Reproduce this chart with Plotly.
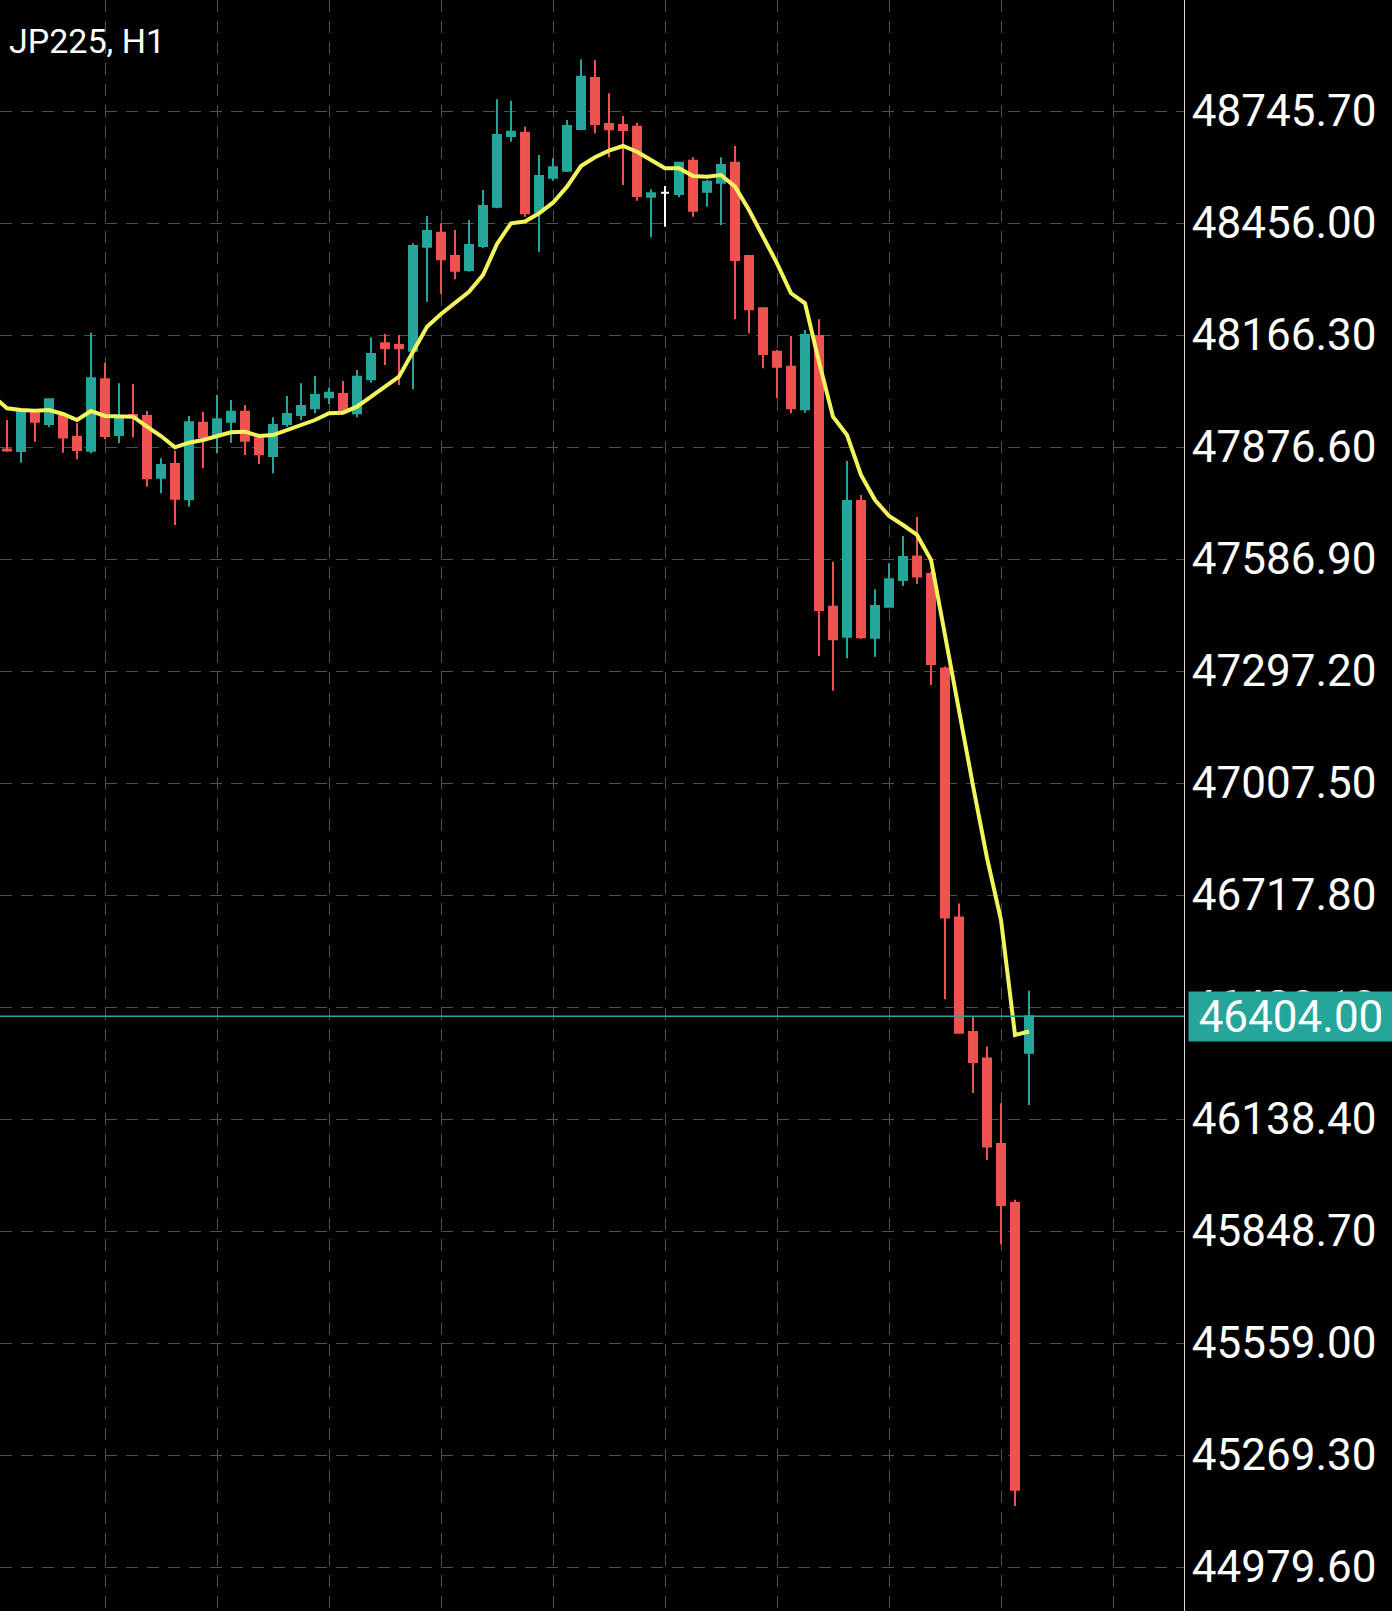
import plotly.graph_objects as go

chart_title = "JP225, H1"

opens = [47870.1, 47866.2, 47963.8, 47936.1, 47956.8, 47903.2, 47867.0, 48051.7, 47907.6, 47959.4,
         47956.8, 47797.2, 47832.6, 47741.3, 47939.5, 47907.6, 47942.0, 47967.9, 47899.1, 47853.3,
         47936.1, 47959.4, 47976.7, 48005.2, 48013.7, 47963.8, 48051.7, 48144.8, 48140.4, 48125.7,
         48394.7, 48430.9, 48370.6, 48334.4, 48396.5, 48498.2, 48681.0, 48689.6, 48485.2, 48573.2,
         48591.3, 48699.1, 48831.1, 48712.1, 48709.5, 48705.1, 48524.0, 48534.4, 48531.0, 48617.1,
         48537.0, 48560.2, 48612.0, 48370.6, 48235.4, 48123.1, 48084.3, 47974.1, 48163.7, 47463.5,
         47385.9, 47736.9, 47383.3, 47463.5, 47532.6, 47593.4, 47548.1, 47303.7, 46659.9, 46363.4,
         46294.9, 46073.7, 45921.1, 46309.9]

highs = [47946.4, 47970.5, 47963.8, 48001.5, 47956.8, 47937.9, 48172.2, 48094.6, 48041.4, 48039.6,
         47969.7, 47847.4, 47867.0, 47956.8, 47967.9, 48011.1, 47998.2, 47985.2, 47901.0, 47953.4,
         48008.5, 48041.4, 48060.2, 48030.0, 48047.3, 48075.8, 48160.3, 48168.9, 48166.3, 48403.5,
         48474.1, 48455.2, 48437.9, 48463.8, 48541.4, 48776.0, 48772.3, 48705.1, 48631.9, 48623.4,
         48722.4, 48879.4, 48877.6, 48791.5, 48732.8, 48715.4, 48543.2, 48551.7, 48614.6, 48625.9,
         48567.2, 48625.9, 48655.2, 48374.0, 48238.0, 48127.5, 48163.7, 48179.2, 48206.9, 47579.9,
         47840.4, 47752.4, 47508.5, 47575.8, 47646.4, 47695.5, 47554.0, 47309.0, 46695.5, 46402.2,
         46325.9, 46179.0, 45929.7, 46470.3]

lows = [47864.4, 47836.0, 47890.3, 47927.6, 47861.9, 47844.8, 47860.3, 47896.5, 47886.2, 47901.7,
        47773.9, 47756.8, 47674.8, 47722.2, 47821.5, 47860.3, 47887.7, 47855.9, 47832.6, 47808.6,
        47929.1, 47946.4, 47963.8, 47987.8, 47963.8, 47953.4, 48042.9, 48088.7, 48037.0, 48025.8,
        48252.4, 48272.3, 48310.4, 48330.0, 48390.6, 48494.0, 48666.3, 48472.3, 48381.8, 48565.4,
        48588.0, 48696.0, 48688.0, 48625.9, 48554.3, 48513.7, 48419.0, 48446.4, 48522.5, 48472.3,
        48498.2, 48450.8, 48206.9, 48170.7, 48080.2, 48002.6, 47963.8, 47965.3, 47336.0, 47246.2,
        47330.0, 47380.0, 47334.2, 47461.0, 47517.1, 47522.2, 47261.0, 46448.0, 46359.0, 46205.6,
        46032.3, 45813.8, 45137.4, 46174.6]

closes = [47867.5, 47966.4, 47942.0, 48000.0, 47901.2, 47868.8, 48054.3, 47905.0, 47950.8, 47954.2,
          47795.6, 47830.0, 47742.9, 47940.5, 47901.7, 47948.2, 47967.9, 47892.9, 47857.7, 47933.5,
          47962.0, 47982.6, 48011.1, 48017.0, 47970.5, 48058.4, 48117.2, 48131.9, 48131.9, 48396.5,
          48435.3, 48362.1, 48332.6, 48399.1, 48500.0, 48683.6, 48692.2, 48481.1, 48577.6, 48600.1,
          48706.9, 48834.4, 48712.1, 48698.4, 48696.6, 48525.8, 48532.8, 48534.4, 48612.0, 48487.8,
          48562.8, 48606.0, 48360.3, 48232.8, 48117.2, 48084.3, 47976.7, 48166.3, 47455.0, 47379.2,
          47736.9, 47384.4, 47465.3, 47534.4, 47592.1, 47541.6, 47315.3, 46659.9, 46361.6, 46285.8,
          46067.5, 45915.9, 45179.5, 46404.0]

# moving average, one value per bar starting one bar before the first visible candle
ma_values = [48008.5, 47976.7, 47972.3, 47970.5, 47972.3, 47962.0, 47946.4, 47969.7, 47956.8, 47956.8, 47955.0,
             47929.1, 47905.0, 47875.8, 47887.7, 47894.7, 47905.0, 47914.6, 47916.2, 47905.0, 47907.6,
             47920.6, 47930.9, 47946.4, 47963.8, 47965.3, 47980.8, 48006.7, 48032.6, 48058.4, 48123.1,
             48187.8, 48220.6, 48248.3, 48278.3, 48321.5, 48401.7, 48455.2, 48459.9, 48481.1, 48508.5,
             48549.9, 48603.4, 48625.9, 48643.0, 48655.2, 48640.4, 48619.0, 48597.5, 48597.5, 48577.6,
             48575.8, 48580.2, 48549.9, 48489.6, 48420.6, 48351.8, 48274.2, 48248.3, 48096.5, 47955.0,
             47907.6, 47804.2, 47739.5, 47698.1, 47674.8, 47649.0, 47584.3, 47385.1, 47191.7, 47000.3,
             46813.5, 46653.1, 46355.6, 46364.7]

last_price = 46404.00

y_ticks = [44979.6, 45269.3, 45559.0, 45848.7, 46138.4, 46428.1, 46717.8,
           47007.5, 47297.2, 47586.9, 47876.6, 48166.3, 48456.0, 48745.7]
y_tick_labels = ["44979.60", "45269.30", "45559.00", "45848.70", "46138.40", "46428.10", "46717.80",
                 "47007.50", "47297.20", "47586.90", "47876.60", "48166.30", "48456.00", "48745.70"]

UP = "#26a69a"
DOWN = "#ef5350"
DOJI = "#ffffff"
MA_COLOR = "#f4f45c"
GRID = "#4f4f4f"
FONT = "Roboto"

bars = list(range(len(opens)))
ma_x = list(range(-1, len(opens)))

normal = [i for i in bars if opens[i] != closes[i]]
doji = [i for i in bars if opens[i] == closes[i]]


def pick(arr, idx):
    return [arr[i] for i in idx]


fig = go.Figure()
fig.add_trace(go.Candlestick(
    x=normal, open=pick(opens, normal), high=pick(highs, normal),
    low=pick(lows, normal), close=pick(closes, normal),
    increasing=dict(line=dict(color=UP, width=2), fillcolor=UP),
    decreasing=dict(line=dict(color=DOWN, width=2), fillcolor=DOWN),
    whiskerwidth=0, hoverinfo="skip", showlegend=False,
))
fig.add_trace(go.Candlestick(
    x=doji, open=pick(opens, doji), high=pick(highs, doji),
    low=pick(lows, doji), close=pick(closes, doji),
    increasing=dict(line=dict(color=DOJI, width=2), fillcolor=DOJI),
    decreasing=dict(line=dict(color=DOJI, width=2), fillcolor=DOJI),
    whiskerwidth=0, hoverinfo="skip", showlegend=False,
))
fig.add_trace(go.Scatter(
    x=ma_x, y=ma_values, mode="lines",
    line=dict(color=MA_COLOR, width=4), hoverinfo="skip", showlegend=False,
))

fig.add_shape(type="line", xref="paper", x0=0, x1=1, yref="y", y0=last_price, y1=last_price,
              line=dict(color=UP, width=1.5), layer="above")

fig.add_annotation(
    xref="paper", x=1, xanchor="left", xshift=4,
    yref="y", y=last_price, yanchor="middle",
    text=f"{last_price:.2f}", showarrow=False,
    bgcolor=UP, width=204, height=49, borderpad=0, align="center",
    font=dict(family=FONT, size=44, color="white"),
)

fig.add_annotation(
    xref="paper", x=0, xanchor="left", xshift=7,
    yref="paper", y=1, yanchor="middle", yshift=-41,
    text=chart_title, showarrow=False,
    font=dict(family=FONT, size=34, color="white"),
)

fig.update_layout(
    width=1392, height=1611,
    margin=dict(l=0, r=208, t=0, b=0, pad=0),
    paper_bgcolor="black", plot_bgcolor="black",
    showlegend=False,
    boxgap=0.43, boxgroupgap=0,
    font=dict(family=FONT, color="white"),
    xaxis=dict(
        range=[-0.5, 84.07], tick0=7, dtick=8, showticklabels=False, ticks="",
        showgrid=True, gridcolor=GRID, gridwidth=1, griddash="12px,9px",
        zeroline=False, showline=False, rangeslider=dict(visible=False),
    ),
    yaxis=dict(
        side="right", range=[44865.8, 49032.8],
        tickvals=y_ticks, ticktext=y_tick_labels, ticks="",
        tickfont=dict(family=FONT, size=44, color="white"),
        ticklabelstandoff=-2,
        showgrid=True, gridcolor=GRID, gridwidth=1, griddash="12px,9px",
        zeroline=False, showline=True, linecolor="#d8d8d8", linewidth=1,
    ),
)

fig.write_html("out.html", config={"displayModeBar": False},
               post_script="document.body.style.margin='0';document.body.style.overflow='hidden';")
